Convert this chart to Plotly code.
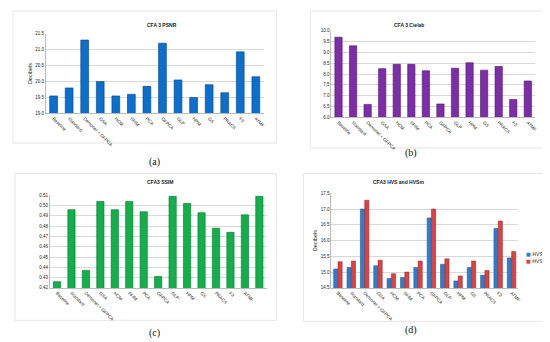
import plotly.graph_objects as go

W, H = 550, 342

cats = ["Baseline", "Standard", "Demonet + GFPCA", "GSA", "HCM", "SFIM", "PCA",
        "GFPCA", "GLP", "HPM", "GS", "PRACS", "F3", "ATMF"]
cats_c = cats + [" "]

psnr = [19.55, 19.8, 21.3, 20.0, 19.55, 19.6, 19.85, 21.2, 20.05, 19.5, 19.9, 19.65, 20.93, 20.15]
cielab = [9.7, 9.3, 6.6, 8.25, 8.45, 8.45, 8.15, 6.62, 8.27, 8.52, 8.18, 8.35, 6.83, 7.68]
ssim = [0.426, 0.496, 0.437, 0.504, 0.496, 0.504, 0.494, 0.431, 0.509, 0.502, 0.493, 0.478, 0.474, 0.491, 0.509]
hvs = [15.1, 15.15, 17.0, 15.2, 14.8, 14.83, 15.15, 16.72, 15.25, 14.72, 15.15, 14.9, 16.38, 15.45]
hvsm = [15.33, 15.35, 17.28, 15.38, 14.95, 15.0, 15.35, 17.0, 15.42, 14.88, 15.35, 15.05, 16.62, 15.65]

HVS_COLOR = "#2A7FD0"
HVSM_COLOR = "#E2403E"

def px(x):
    return x / W

def py(y):
    return 1 - y / H

fig = go.Figure()

fig.add_trace(go.Bar(x=cats, y=psnr, marker=dict(color="#0A6FCF", line=dict(color="#05407A", width=0.6)),
                     width=0.5, xaxis="x", yaxis="y", showlegend=False))
fig.add_trace(go.Bar(x=cats, y=cielab, marker=dict(color="#7D2DA8", line=dict(color="#4A1466", width=0.6)),
                     width=0.5, xaxis="x2", yaxis="y2", showlegend=False))
fig.add_trace(go.Bar(x=cats_c, y=ssim, marker=dict(color="#11B04A", line=dict(color="#0A6E2C", width=0.6)),
                     width=0.5, xaxis="x3", yaxis="y3", showlegend=False))
fig.add_trace(go.Bar(x=cats, y=hvs, name="HVS", marker=dict(color=HVS_COLOR, line=dict(color="#154A80", width=0.5)),
                     xaxis="x4", yaxis="y4", showlegend=False))
fig.add_trace(go.Bar(x=cats, y=hvsm, name="HVSm", marker=dict(color=HVSM_COLOR, line=dict(color="#8A1F1E", width=0.5)),
                     xaxis="x4", yaxis="y4", showlegend=False))

tickfont = dict(family="Arial, Liberation Sans", size=4.5, color="#222")

def xax(dom, anchor):
    return dict(domain=dom, anchor=anchor, tickangle=45, tickfont=tickfont, showgrid=False,
                showline=True, linecolor="#bbb", linewidth=0.6, ticks="", fixedrange=True)

def yax(dom, anchor, rng, dtick, fmt, title=None):
    d = dict(domain=dom, anchor=anchor, range=rng, dtick=dtick, tick0=rng[0], tickformat=fmt,
             tickfont=tickfont, showgrid=True, gridcolor="#d9d9d9", gridwidth=0.6,
             showline=True, linecolor="#bbb", linewidth=0.6, zeroline=False, ticks="")
    if title:
        d["title"] = dict(text=title, font=dict(family="Arial, Liberation Sans", size=5.5, color="#222"), standoff=2)
    return d

fig.update_layout(
    width=W, height=H, margin=dict(l=0, r=0, t=0, b=0),
    paper_bgcolor="white", plot_bgcolor="white",
    barmode="group", bargap=0.35, bargroupgap=0.05,
    showlegend=False,
    xaxis=xax([px(38), px(257)], "y"),
    yaxis=yax([py(105), py(24)], "x", [19.0, 21.5], 0.5, ".1f", "Decibels"),
    xaxis2=xax([px(325), px(530)], "y2"),
    yaxis2=yax([py(109), py(21)], "x2", [6.0, 10.0], 0.5, ".1f"),
    xaxis3=xax([px(42), px(260)], "y3"),
    yaxis3=yax([py(282), py(188)], "x3", [0.42, 0.51], 0.01, ".2f"),
    xaxis4=xax([px(325), px(513)], "y4"),
    yaxis4=yax([py(282), py(186)], "x4", [14.5, 17.5], 0.5, ".1f", "Decibels"),
)

# chart frames
for (x0, y0, x1, y1) in [(5, 1, 270, 135), (304, 1, 548, 140), (7, 166, 270, 315), (297, 166, 548, 316)]:
    fig.add_shape(type="rect", xref="paper", yref="paper", x0=px(x0), x1=px(x1), y0=py(y1), y1=py(y0),
                  line=dict(color="#e0e0e0", width=0.8), fillcolor="rgba(0,0,0,0)", layer="below")

# manual legend for panel (d)
legend_text = ("<span style='color:%s'>■</span> HVS<br><span style='color:%s'>■</span> HVSm"
               % (HVS_COLOR, HVSM_COLOR))
fig.add_annotation(text=legend_text, xref="paper", yref="paper", x=px(519), y=py(251),
                   xanchor="left", yanchor="middle", align="left", showarrow=False,
                   font=dict(family="DejaVu Sans, Arial", size=5, color="#222"))

titles = [("CFA 3 PSNR", 138, 10), ("CFA 3 Cielab", 420, 10), ("CFA3 SSIM", 138, 175), ("CFA3 HVS and HVSm", 420, 175)]
for t, x, y in titles:
    fig.add_annotation(text="<b>" + t + "</b>", xref="paper", yref="paper", x=px(x), y=py(y),
                       showarrow=False, font=dict(family="Arial, Liberation Sans", size=5, color="#222"))

caps = [("(a)", 140, 154), ("(b)", 413, 145), ("(c)", 140, 336), ("(d)", 413, 333)]
for t, x, y in caps:
    fig.add_annotation(text=t, xref="paper", yref="paper", x=px(x), y=py(y), showarrow=False,
                       font=dict(family="Liberation Serif, DejaVu Serif", size=10, color="#111"))

fig.write_html("out.html")
